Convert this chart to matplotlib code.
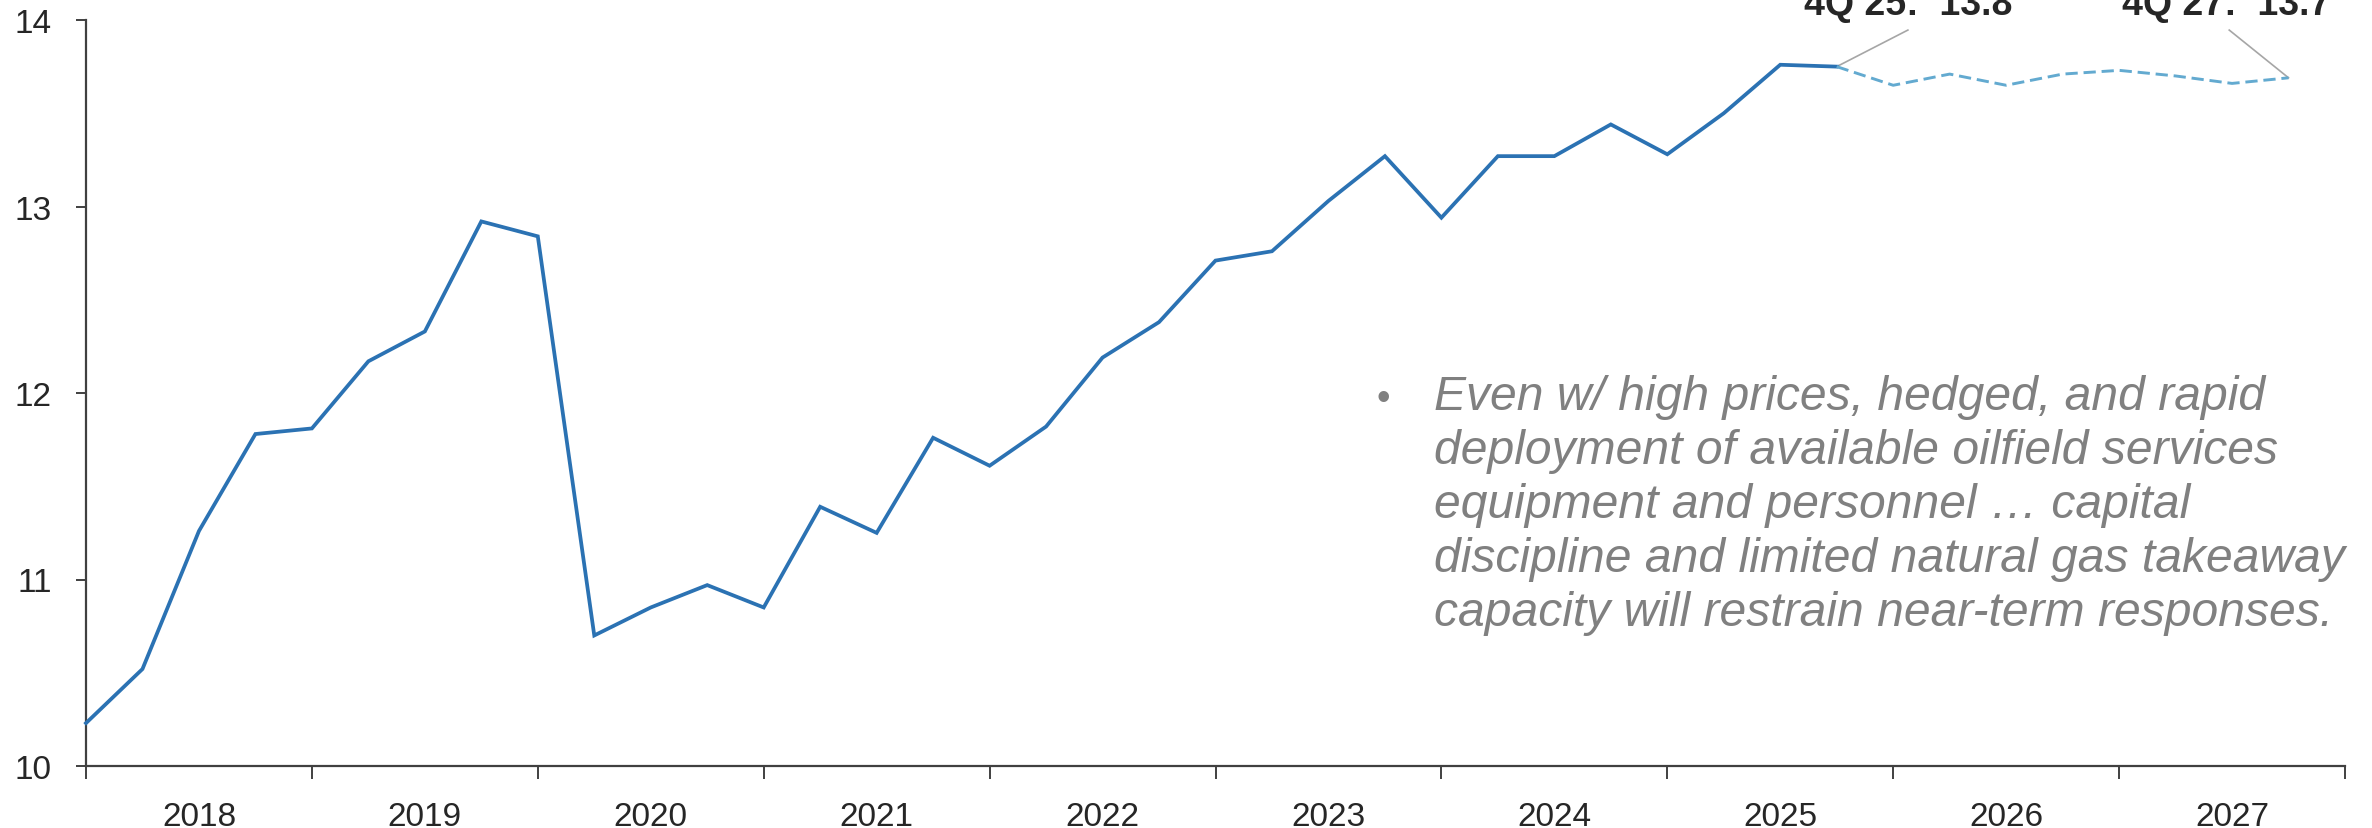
import matplotlib
matplotlib.use("Agg")
import matplotlib.pyplot as plt

# Quarterly series, 1Q 2018 onward
years = [2018, 2019, 2020, 2021, 2022, 2023, 2024, 2025, 2026, 2027]
actual = [10.23, 10.52, 11.26, 11.78,
          11.81, 12.17, 12.33, 12.92,
          12.84, 10.70, 10.85, 10.97,
          10.85, 11.39, 11.25, 11.76,
          11.61, 11.82, 12.19, 12.38,
          12.71, 12.76, 13.03, 13.27,
          12.94, 13.27, 13.27, 13.44,
          13.28, 13.50, 13.76, 13.75]
# Outlook from 4Q 2025 through 4Q 2027
forecast = [13.75, 13.65, 13.71, 13.65, 13.71, 13.73, 13.70, 13.66, 13.69]
yticks = [10, 11, 12, 13, 14]
note_lines = [
    "Even w/ high prices, hedged, and rapid",
    "deployment of available oilfield services",
    "equipment and personnel \u2026 capital",
    "discipline and limited natural gas takeaway",
    "capacity will restrain near-term responses.",
]

plt.rcParams['font.family'] = ['Liberation Sans', 'DejaVu Sans']

W, H = 2372, 829
fig = plt.figure(figsize=(W / 100, H / 100), dpi=100)
ax = fig.add_axes([86 / W, 1 - 767 / H, (2345 - 86) / W, (767 - 21) / H])

x_act = list(range(len(actual)))
x_fc = list(range(len(actual) - 1, len(actual) - 1 + len(forecast)))

ax.plot(x_act, actual, color='#2B72B3', lw=2.7, solid_joinstyle='miter', clip_on=False, zorder=3)
ax.plot(x_fc, forecast, color='#63AAD0', lw=2.1, ls=(0, (4.2, 2.0)), clip_on=False, zorder=3)

ax.set_xlim(0, 4 * len(years))
ax.set_ylim(yticks[0], yticks[-1])

ax.set_yticks(yticks)
ax.set_yticklabels([str(v) for v in yticks])
ax.set_xticks(range(0, 4 * len(years) + 1, 4))
ax.set_xticklabels([])
ax.set_xticks([4 * i + 2 for i in range(len(years))], minor=True)
ax.set_xticklabels([str(y) for y in years], minor=True)

spine_c = '#404040'
for s in ['top', 'right']:
    ax.spines[s].set_visible(False)
for s in ['left', 'bottom']:
    ax.spines[s].set_color(spine_c)
    ax.spines[s].set_linewidth(1.6)

ax.tick_params(axis='y', which='major', direction='out', length=7.5, width=1.4,
               color=spine_c, labelsize=24, labelcolor='#262626', pad=17)
ax.tick_params(axis='x', which='major', direction='out', length=9, width=1.4,
               color=spine_c)
ax.tick_params(axis='x', which='minor', length=0, labelsize=24,
               labelcolor='#262626', pad=25)

# Callouts for the last actual and last forecast quarters
lead_c = '#A6A6A6'
i_a = len(actual) - 1
ax.plot([i_a, i_a + 1.26], [actual[-1], 13.946], color=lead_c, lw=1.2, clip_on=False)
ax.text(i_a + 1.26, 14.03, f"4Q 25:  {actual[-1]:.1f}", ha='center', va='baseline',
        fontsize=27, fontweight='bold', color='#262626', clip_on=False)
i_f = x_fc[-1]
ax.plot([i_f, i_f - 1.05], [forecast[-1], 13.946], color=lead_c, lw=1.2, clip_on=False)
ax.text(i_f - 1.1, 14.03, f"4Q 27:  {forecast[-1]:.1f}", ha='center', va='baseline',
        fontsize=27, fontweight='bold', color='#262626', clip_on=False)

# Commentary block
note_c = '#808080'
x_bullet = (1377 - 86) / (2345 - 86)
x_note = (1434 - 86) / (2345 - 86)
base0 = 410
step = 54
for k, line in enumerate(note_lines):
    yb = (767 - (base0 + k * step)) / (767 - 21)
    ax.text(x_note, yb, line, transform=ax.transAxes, ha='left', va='baseline',
            fontsize=34.6, style='italic', color=note_c)
ax.text(x_bullet, (767 - base0) / (767 - 21), "\u2022", transform=ax.transAxes,
        ha='left', va='baseline', fontsize=28, color=note_c)

fig.savefig('out.png', dpi=100, facecolor='white')
